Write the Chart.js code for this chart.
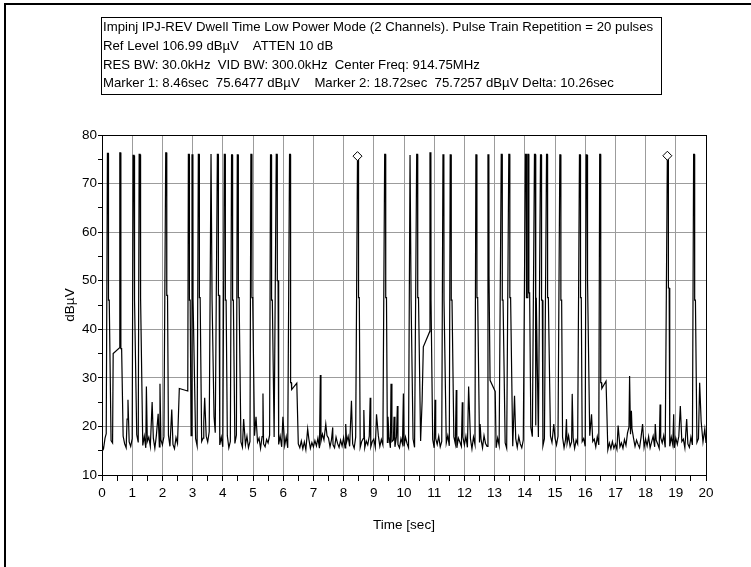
<!DOCTYPE html>
<html>
<head>
<meta charset="utf-8">
<script src="https://cdn.jsdelivr.net/npm/chart.js@4"></script>
<style>
  body { margin: 0; background: #fff; }
  #page { position: relative; width: 751px; height: 567px; overflow: hidden; background: #fff; }
  #frame { position: absolute; left: 4px; top: 3px; width: 800px; height: 600px; border-left: 2px solid #000; border-top: 2px solid #000; }
  #info { position: absolute; left: 101px; top: 17px; width: 561px; height: 78px; box-sizing: border-box;
          border: 1px solid #000; padding: 0 0 0 1px; white-space: pre; color: #000;
          font: 13.2px "Liberation Sans", Arial, sans-serif; line-height: 18.8px; }
  #chart { position: absolute; left: 0; top: 0; }
</style>
</head>
<body>
<div id="page">
  <div id="frame"></div>
  <canvas id="chart" width="751" height="567"></canvas>
  <div id="info">Impinj IPJ-REV Dwell Time Low Power Mode (2 Channels). Pulse Train Repetition = 20 pulses
Ref Level 106.99 dBµV    ATTEN 10 dB
RES BW: 30.0kHz  VID BW: 300.0kHz  Center Freq: 914.75MHz
Marker 1: 8.46sec  75.6477 dBµV    Marker 2: 18.72sec  75.7257 dBµV Delta: 10.26sec</div>
</div>
<script>
// tick labels
var timeLabels = [0, 1, 2, 3, 4, 5, 6, 7, 8, 9, 10, 11, 12, 13, 14, 15, 16, 17, 18, 19, 20];
var levelLabels = [10, 20, 30, 40, 50, 60, 70, 80];

// noise floor, one reading every 0.05 sec from 0 to 20 sec
var floorStep = 0.05;
var floorLevels = [
  16.1,15.4,17.6,16.3,18.2,15.8,17.1,16.6,15.5,17.9,16.2,17.4,15.7,16.9,18.0,16.4,15.6,17.7,16.8,15.9,
  17.5,16.0,15.5,18.3,16.7,15.8,17.2,16.1,18.0,15.6,16.9,17.8,15.9,16.4,17.6,15.5,18.1,16.6,15.8,17.3,
  16.2,17.9,15.6,16.8,18.2,15.9,17.0,16.3,15.4,17.7,16.5,18.0,15.8,16.9,17.4,15.6,17.8,16.2,15.9,18.1,
  16.6,15.5,17.5,16.0,18.2,15.7,16.9,17.6,15.9,18.0,16.8,18.9,19.6,18.2,20.1,18.7,19.3,17.4,16.2,17.8,
  15.8,17.4,16.3,18.1,15.6,16.9,17.7,15.9,16.5,18.2,15.5,17.1,16.8,15.7,17.9,16.2,18.0,15.6,16.9,17.5,
  16.0,18.1,15.7,16.8,17.6,15.5,17.9,16.4,15.8,17.3,16.6,18.2,15.9,16.7,17.8,15.6,17.1,16.3,18.0,15.8,
  17.2,16.1,17.9,15.6,16.9,18.0,16.3,15.7,17.5,15.3,16.4,15.6,17.0,15.4,16.8,15.2,16.2,17.4,15.5,16.7,
  15.8,17.1,16.0,17.6,15.5,16.9,18.4,17.2,19.5,18.1,17.6,15.8,17.3,16.2,15.6,17.8,16.5,15.7,17.2,16.0,
  17.7,15.6,16.8,18.0,15.9,17.2,16.4,15.5,17.8,16.6,18.1,15.7,16.9,17.5,15.6,17.0,16.2,18.0,15.8,16.9,
  17.4,15.7,16.6,18.1,15.9,17.3,16.2,15.5,17.8,16.7,18.0,15.6,16.9,17.2,15.8,17.9,16.3,15.6,17.5,16.4,
  15.9,17.8,16.5,15.6,18.0,16.2,17.4,15.7,16.8,18.1,15.8,17.0,16.4,15.5,17.7,16.9,18.2,15.9,16.6,17.3,
  15.6,17.5,16.3,18.0,15.8,16.9,17.7,15.5,16.6,18.1,16.0,17.2,15.7,17.9,16.4,15.6,17.6,16.8,15.9,17.8,
  16.2,18.0,15.7,16.9,17.5,15.4,17.8,16.3,18.2,15.8,16.7,17.4,15.6,18.1,16.5,15.9,17.7,16.2,15.5,17.9,
  16.8,15.6,17.6,16.1,18.0,15.8,17.1,16.6,15.5,17.8,16.3,18.1,15.9,16.9,17.5,15.7,17.9,16.4,15.6,17.2,
  18.6,17.4,19.3,18.2,19.8,17.9,18.8,17.3,19.1,17.8,16.4,18.2,16.0,17.5,15.8,17.9,16.3,18.0,16.7,15.8,
  17.6,16.2,18.0,15.7,16.9,17.8,15.6,17.3,16.5,18.1,15.9,16.8,17.7,15.5,17.2,16.4,18.0,15.8,16.9,17.5,
  15.9,17.7,16.3,18.1,15.6,16.9,17.4,15.8,17.9,16.2,15.7,17.6,16.5,15.6,16.3,15.2,16.6,15.4,16.9,15.5,
  16.4,15.3,17.0,15.8,16.6,15.5,17.3,16.1,18.6,19.9,18.4,19.5,17.6,15.9,17.2,16.3,15.6,17.8,16.1,15.7,
  17.4,16.0,17.9,15.6,16.8,18.0,15.8,17.2,16.4,15.5,17.7,16.6,18.1,15.7,16.9,17.5,15.9,17.8,16.2,15.6,
  17.6,16.3,18.0,15.8,16.9,17.4,15.6,17.9,16.4,15.7,17.8,16.2,18.1,15.9,16.7,17.5,15.5,17.3,16.8,16.0,
  16.6
];

// tag bursts (sec), peak level and the lower shoulder beside each burst (dBuV)
var pulseTimes = [0.18, 0.59, 1.03, 1.23, 2.11, 2.86, 2.98, 3.19, 3.61, 3.82, 4.05, 4.29, 4.48, 4.93,
  5.58, 5.77, 6.21, 8.46, 9.36, 10.20, 10.42, 10.86, 11.29, 11.53, 12.38, 12.78, 13.22, 13.47,
  14.02, 14.10, 14.32, 14.52, 14.72, 15.16, 15.81, 16.03, 16.48, 18.72, 19.59];
var pulsePeaks = [76.2, 76.3, 75.8, 76.0, 76.3, 76.0, 75.9, 76.0, 76.1, 76.0, 76.0, 75.9, 75.9, 76.0,
  75.9, 76.0, 76.0, 75.65, 76.0, 75.9, 76.0, 76.3, 75.9, 75.9, 75.9, 75.9, 76.0, 76.0,
  76.0, 76.0, 76.0, 75.9, 76.0, 75.9, 75.9, 75.9, 76.0, 75.73, 76.0];
var pulseShoulders = [46, 36, 46, 46.5, 47, 46, 46, 46.5, 46, 47, 46, 46, 46.5, 46.5,
  46, 50, 29, 46.5, 46.5, 46, 46.5, 46, 46, 46, 46.5, 51, 46, 46.5,
  46.5, 47.5, 46.5, 46, 46.5, 46, 46.5, 50, 29, 48.5, 46];

// small blips above the floor
var blipTimes = [0.14, 0.83, 0.86, 1.47, 1.66, 1.86, 1.92, 2.31, 3.37, 3.40, 3.71, 4.69, 5.10, 5.33,
  5.99, 6.81, 7.23, 7.41, 7.64, 8.07, 8.26, 8.67, 8.88, 9.09, 9.47, 9.57, 9.67, 9.78, 9.98,
  10.60, 11.03, 11.73, 11.93, 12.14, 12.52, 13.66, 14.37, 14.96, 15.38, 15.57, 16.21, 17.09,
  17.47, 17.53, 17.90, 18.32, 18.48, 18.93, 19.15, 19.36, 19.79, 19.84, 19.96];
var blipLevels = [18.5, 21.5, 25.5, 28.2, 25, 22.6, 28.8, 23.5, 21, 25.9, 22, 21.5, 22, 26.8,
  22, 19.5, 30.6, 20.5, 19.8, 20.5, 25.3, 23.4, 25.9, 22.5, 22, 28.8, 22, 24.2, 26.8,
  25.3, 25.5, 27.5, 25, 28.2, 20.5, 26.3, 20.2, 20.5, 21.5, 26.7, 22.5, 20.2,
  30.4, 23.2, 20.5, 20.5, 24.5, 22.5, 24.2, 21.5, 29, 21, 19.5];

// plateaus seen just before/after some bursts: start, end (sec), level at start, level at end
var stepStarts = [0.37, 2.56, 6.28, 10.64, 12.85, 16.55];
var stepEnds = [0.58, 2.84, 6.45, 10.85, 13.02, 16.69];
var stepFrom = [35.0, 27.8, 27.6, 36.4, 29.5, 27.8];
var stepTo = [36.2, 27.3, 28.9, 39.5, 27.2, 29.3];

// analyzer markers
var markerTimes = [8.46, 18.72];
var markerLevels = [75.6477, 75.7257];

function buildTrace() {
  var pts = [];
  var busy = [];
  pulseTimes.forEach(function(t, i) {
    pts.push({x: t, y: pulsePeaks[i]});
    pts.push({x: t + 0.03, y: pulsePeaks[i]});
    pts.push({x: t + 0.035, y: pulseShoulders[i]});
    pts.push({x: t + 0.06, y: pulseShoulders[i]});
    busy.push([t - 0.02, t + 0.08]);
  });
  stepStarts.forEach(function(s, i) {
    pts.push({x: s, y: stepFrom[i]});
    pts.push({x: stepEnds[i], y: stepTo[i]});
    busy.push([s - 0.01, stepEnds[i] + 0.01]);
  });
  blipTimes.forEach(function(t, i) {
    pts.push({x: t, y: blipLevels[i]});
    busy.push([t - 0.01, t + 0.01]);
  });
  floorLevels.forEach(function(v, i) {
    var t = i * floorStep;
    var hit = busy.some(function(b) { return t >= b[0] && t <= b[1]; });
    if (!hit) pts.push({x: t, y: v});
  });
  pts.sort(function(a, b) { return a.x - b.x; });
  return pts;
}

var tickFont = { family: '"Liberation Sans", Arial, sans-serif', size: 13.5 };
var gridGray = '#9c9c9c';

var framePlugin = {
  id: 'frame',
  afterDraw: function(chart) {
    var a = chart.chartArea;
    var c = chart.ctx;
    c.save();
    c.strokeStyle = '#000';
    c.lineWidth = 1;
    c.strokeRect(Math.round(a.left) + 0.5, Math.round(a.top) + 0.5,
      Math.round(a.right - a.left), Math.round(a.bottom - a.top));
    c.restore();
  }
};

var ctx = document.getElementById('chart').getContext('2d');
var myChart = new Chart(ctx, {
  type: 'line',
  data: {
    datasets: [{
      label: 'Markers',
      type: 'scatter',
      data: markerTimes.map(function(t, i) { return {x: t, y: markerLevels[i]}; }),
      pointStyle: 'rectRot',
      pointRadius: 4.5,
      pointBackgroundColor: '#fff',
      pointBorderColor: '#000',
      pointBorderWidth: 1,
      order: 0
    }, {
      label: 'Trace',
      data: buildTrace(),
      borderColor: '#000',
      borderWidth: 1.2,
      pointRadius: 0,
      tension: 0,
      order: 1
    }]
  },
  options: {
    responsive: false,
    animation: false,
    devicePixelRatio: 1,
    layout: { padding: { left: 0, top: 135, right: 45, bottom: 0 } },
    plugins: { legend: { display: false }, tooltip: { enabled: false } },
    scales: {
      x: {
        type: 'linear',
        min: 0,
        max: 20,
        afterFit: function(scale) { scale.height = 92; },
        ticks: {
          stepSize: 0.5,
          autoSkip: false,
          maxRotation: 0,
          padding: 4,
          color: '#000',
          font: tickFont,
          callback: function(v) { return timeLabels.indexOf(v) >= 0 ? String(v) : ''; }
        },
        grid: {
          color: function(c) { return (c.tick && timeLabels.indexOf(c.tick.value) >= 0) ? gridGray : 'rgba(0,0,0,0)'; },
          tickColor: '#000',
          tickLength: 6
        },
        border: { display: true, color: '#000' },
        title: { display: true, text: 'Time [sec]', color: '#000', font: tickFont, padding: { top: 0, bottom: 34 } }
      },
      y: {
        min: 10,
        max: 80,
        afterFit: function(scale) { scale.width = 102; },
        ticks: {
          stepSize: 5,
          autoSkip: false,
          padding: 1,
          color: '#000',
          font: tickFont,
          callback: function(v) { return levelLabels.indexOf(v) >= 0 ? String(v) : ''; }
        },
        grid: {
          color: function(c) { return (c.tick && levelLabels.indexOf(c.tick.value) >= 0) ? gridGray : 'rgba(0,0,0,0)'; },
          tickColor: '#000',
          tickLength: 4
        },
        border: { display: true, color: '#000' },
        title: { display: true, text: 'dBµV', color: '#000', font: tickFont, padding: { top: 62, bottom: 0 } }
      }
    }
  },
  plugins: [framePlugin]
});
</script>
</body>
</html>
